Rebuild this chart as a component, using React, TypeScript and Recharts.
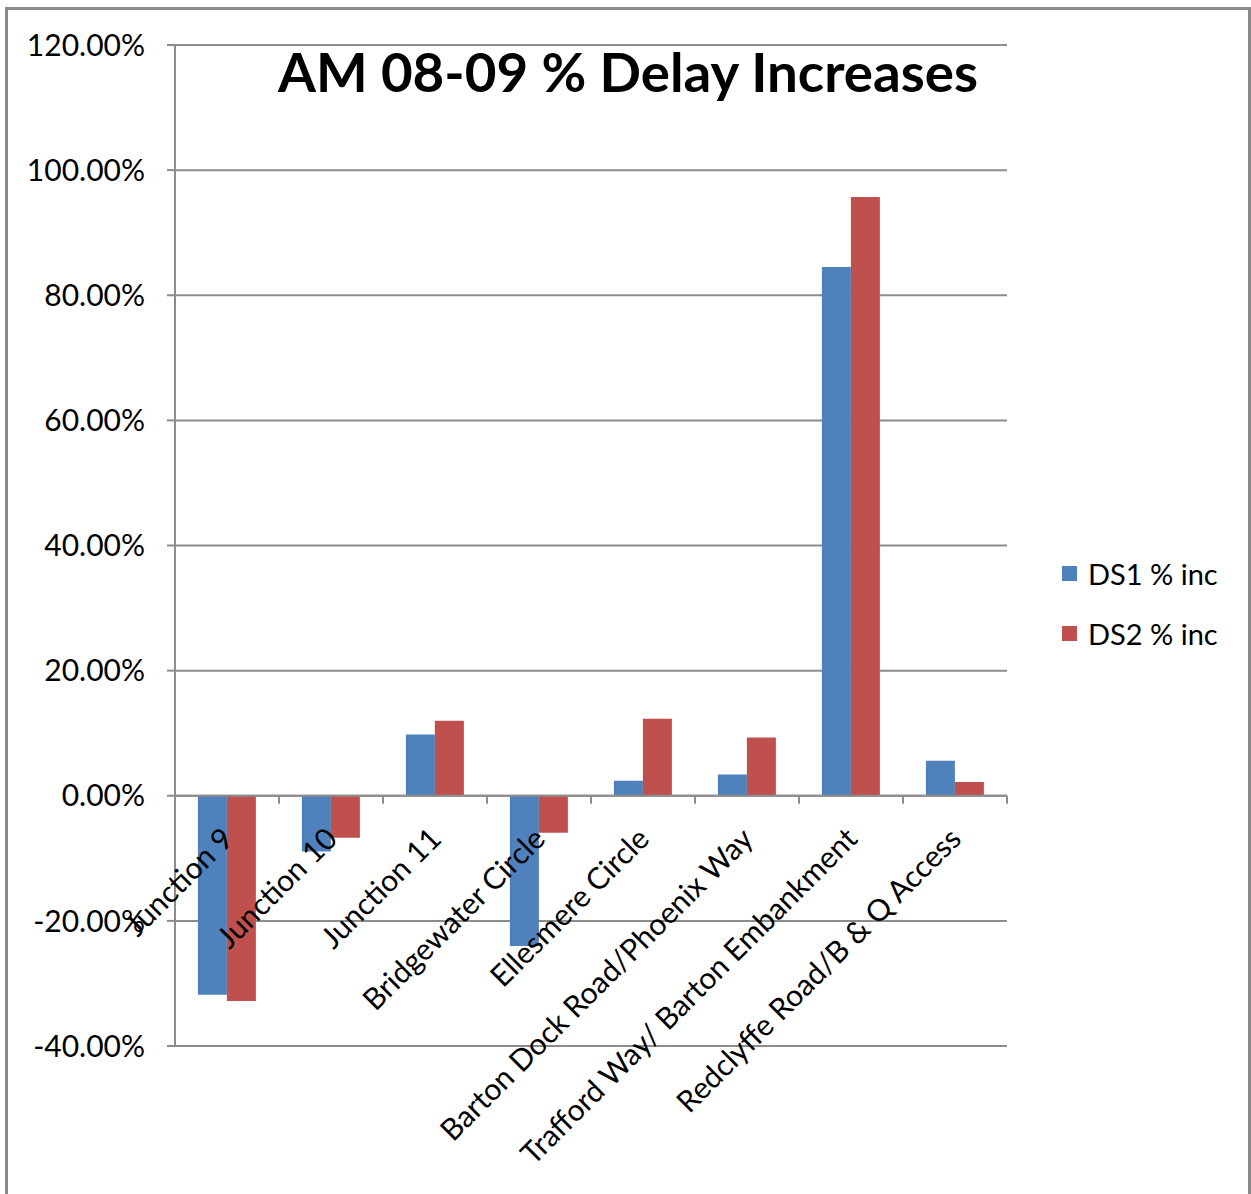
import React from "react";
import {
  BarChart,
  Bar,
  XAxis,
  YAxis,
  CartesianGrid,
  ReferenceLine,
} from "recharts";

const categories = [
  "Junction 9",
  "Junction 10",
  "Junction 11",
  "Bridgewater Circle",
  "Ellesmere Circle",
  "Barton Dock Road/Phoenix Way",
  "Trafford Way/ Barton Embankment",
  "Redclyffe Road/B & Q Access",
];
const ds1Values = [-0.318, -0.089, 0.098, -0.24, 0.024, 0.034, 0.845, 0.056];
const ds2Values = [-0.328, -0.067, 0.12, -0.059, 0.123, 0.093, 0.957, 0.022];
const yTicks = [-0.4, -0.2, 0, 0.2, 0.4, 0.6, 0.8, 1.0, 1.2];
const seriesNames = ["DS1 % inc", "DS2 % inc"];
const seriesColors = ["#4F81BD", "#C0504D"];

const data = categories.map((name, i) => ({
  name,
  ds1: ds1Values[i],
  ds2: ds2Values[i],
}));

const W = 1251;
const H = 1194;
const margin = { top: 45, right: 244, left: 0, bottom: 147 };
const plotH = H - margin.top - margin.bottom - 1;
const plotW = W - 175 - margin.right;
const yMin = yTicks[0];
const yMax = yTicks[yTicks.length - 1];
const zeroY = margin.top + (plotH * yMax) / (yMax - yMin);
const band = plotW / categories.length;
const gridColor = "#8c8c8c";
const font = "Lato, 'Open Sans', sans-serif";

// category labels hang off the 0% line, like Excel does when the axis crosses at zero
const CategoryTick = (props: any) => {
  const { x, payload } = props;
  const ax = x + 8;
  const ay = zeroY + 45;
  return (
    <g>
      <line x1={x + band / 2} x2={x + band / 2} y1={zeroY} y2={zeroY + 8} stroke={gridColor} strokeWidth={2} />
      <text
        x={ax}
        y={ay}
        textAnchor="end"
        transform={`rotate(-45 ${ax} ${ay})`}
        fontSize={30}
        fontFamily={font}
        fill="#000"
      >
        {payload.value}
      </text>
    </g>
  );
};

export default function App() {
  return (
    <div style={{ position: "absolute", left: 0, top: 0, width: W, height: H, background: "#fff", overflow: "hidden" }}>
      <div
        style={{
          position: "absolute",
          left: 5,
          top: 7,
          width: W - 5,
          height: H,
          boxSizing: "border-box",
          border: "3px solid #8a8a8a",
          borderBottom: "none",
        }}
      />
      <BarChart
        width={W}
        height={H}
        data={data}
        margin={margin}
        barCategoryGap="22%"
        barGap={0}
      >
        <CartesianGrid vertical={false} stroke={gridColor} strokeWidth={2} />
        <XAxis
          dataKey="name"
          interval={0}
          height={1}
          axisLine={false}
          tickLine={false}
          tick={<CategoryTick />}
        />
        <YAxis
          width={175}
          domain={[yMin, yMax]}
          ticks={yTicks}
          tickFormatter={(v: number) => (v * 100).toFixed(2) + "%"}
          tickSize={8}
          tickMargin={22}
          axisLine={{ stroke: gridColor, strokeWidth: 2 }}
          tickLine={{ stroke: gridColor, strokeWidth: 2 }}
          tick={{ fontSize: 30, fill: "#000", fontFamily: font }}
        />
        <ReferenceLine y={0} stroke={gridColor} strokeWidth={2} />
        <Bar dataKey="ds1" name={seriesNames[0]} fill={seriesColors[0]} isAnimationActive={false} />
        <Bar dataKey="ds2" name={seriesNames[1]} fill={seriesColors[1]} isAnimationActive={false} />
      </BarChart>
      <div style={{ position: "absolute", left: 1062, top: 543, fontFamily: font, fontSize: 29, color: "#000" }}>
        {seriesNames.map((n, i) => (
          <div key={n} style={{ display: "flex", alignItems: "center", height: 60 }}>
            <div style={{ width: 15, height: 15, background: seriesColors[i], marginRight: 11 }} />
            <span>{n}</span>
          </div>
        ))}
      </div>
      <svg width={W} height={H} style={{ position: "absolute", left: 0, top: 0, pointerEvents: "none" }}>
        <text
          x={628}
          y={92}
          textAnchor="middle"
          fontFamily={font}
          fontWeight="bold"
          fontSize={54}
          textLength={700}
          lengthAdjust="spacingAndGlyphs"
          fill="#000"
        >
          AM 08-09 % Delay Increases
        </text>
      </svg>
    </div>
  );
}
